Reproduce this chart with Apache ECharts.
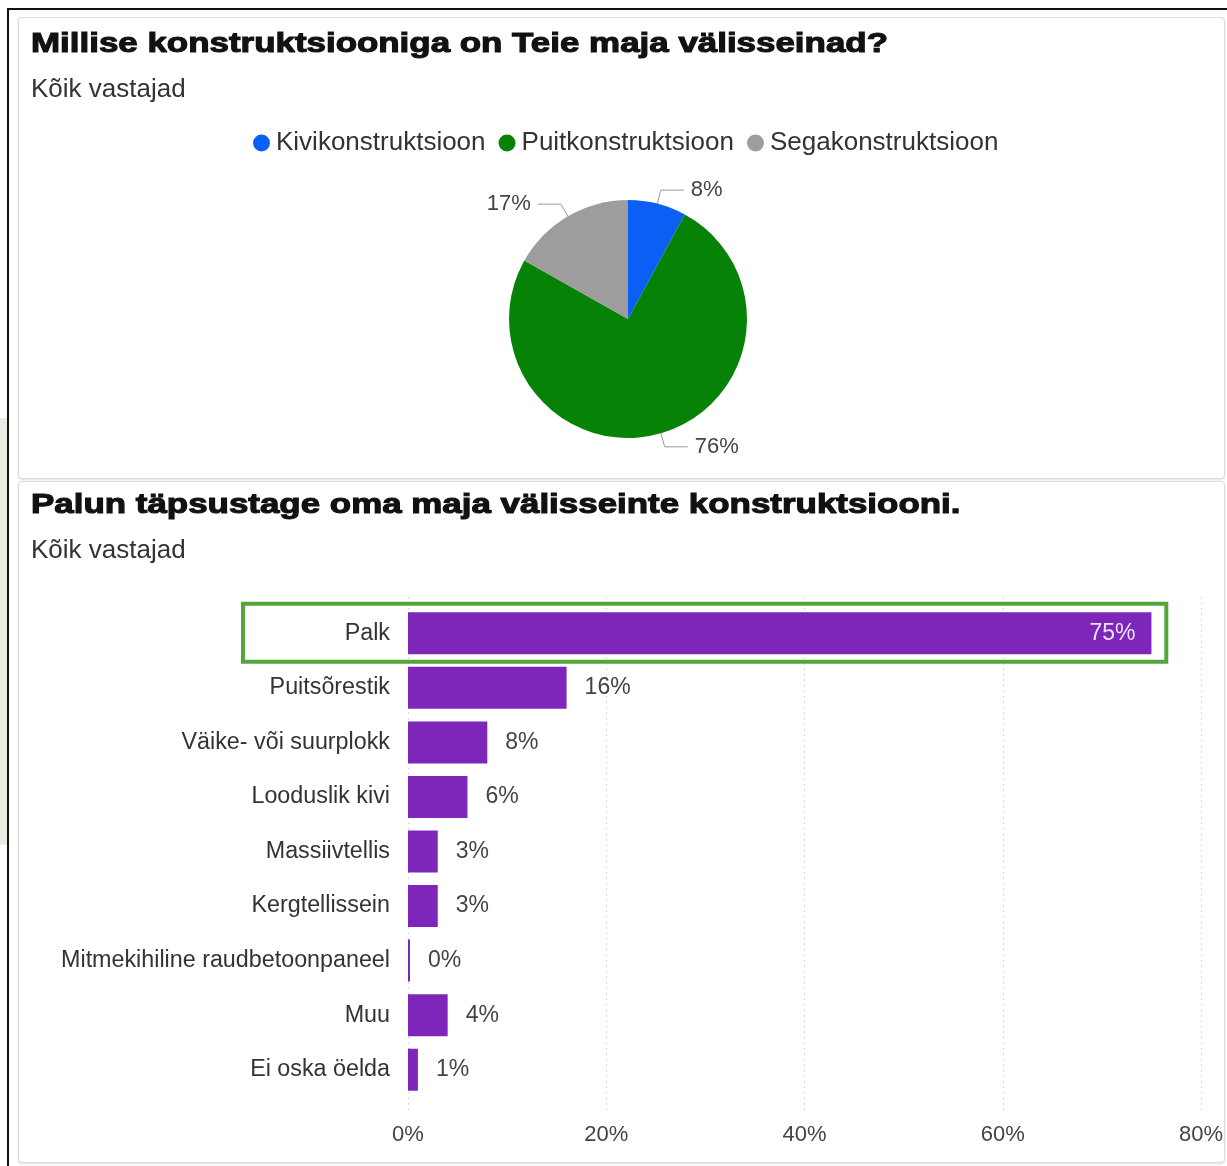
<!DOCTYPE html>
<html>
<head>
<meta charset="utf-8">
<script src="https://cdn.jsdelivr.net/npm/echarts@6/dist/echarts.min.js"></script>
<style>
  html, body { margin: 0; padding: 0; background: #fff; width: 1227px; height: 1166px; overflow: hidden; }
  #side { position: absolute; left: 0; top: 418px; width: 7px; height: 427px; background: #ebe9e4; }
  #frame { position: absolute; left: 7px; top: 8px; width: 1300px; height: 1300px; border-left: 2px solid #111; border-top: 2px solid #111; }
  .panel { position: absolute; left: 18px; width: 1205px; border: 1px solid #dcdcdc; border-radius: 4px; box-shadow: 0 1px 2px rgba(0,0,0,0.12); background: #fff; }
  #p1 { top: 17px; height: 460px; }
  #p2 { top: 481px; height: 680px; }
  #chart { position: absolute; left: 0; top: 0; width: 1227px; height: 1166px; }
</style>
</head>
<body>
<div id="side"></div>
<div id="frame"></div>
<div class="panel" id="p1"></div>
<div class="panel" id="p2"></div>
<div id="chart"></div>
<script>
// Wall construction type (share of all respondents, %)
const pieNames = ['Kivikonstruktsioon', 'Puitkonstruktsioon', 'Segakonstruktsioon'];
const pieValues = [8, 76, 17];

// Detailed wall construction (share of all respondents, %)
const barCategories = [
  'Palk',
  'Puitsõrestik',
  'Väike- või suurplokk',
  'Looduslik kivi',
  'Massiivtellis',
  'Kergtellissein',
  'Mitmekihiline raudbetoonpaneel',
  'Muu',
  'Ei oska öelda'
];
const barValues = [75, 16, 8, 6, 3, 3, 0, 4, 1];

// Value axis
const axisMin = 0;
const axisMax = 80;
const axisStep = 20;

const highlighted = 'Palk';

const FONT = '"Liberation Sans", Arial, sans-serif';
const pieColors = ['#0b5ff4', '#068206', '#9d9d9d'];
const barColor = '#7d26b9';

const chart = echarts.init(document.getElementById('chart'), null, { renderer: 'canvas' });

// Heavy, wide panel headings
function heading(id, text, x, y) {
  return {
    type: 'text', id: id, x: x, y: y, scaleX: 1.247, z: 50,
    style: {
      text: text, x: 0, y: 0, textVerticalAlign: 'top',
      font: 'bold 28px ' + FONT, fill: '#111', stroke: '#111', lineWidth: 1.1
    }
  };
}

const subStyle = { fontFamily: FONT, fontSize: 26, fontWeight: 'normal', color: '#333' };

const option = {
  backgroundColor: 'transparent',
  animation: false,
  title: [
    { text: 'Kõik vastajad', left: 31, top: 77, padding: 0, textStyle: subStyle },
    { text: 'Kõik vastajad', left: 31, top: 538, padding: 0, textStyle: subStyle }
  ],
  graphic: [
    heading('h1', 'Millise konstruktsiooniga on Teie maja välisseinad?', 31, 30),
    heading('h2', 'Palun täpsustage oma maja välisseinte konstruktsiooni.', 31, 491)
  ],
  legend: {
    data: pieNames,
    left: 253,
    top: 130,
    padding: 0,
    icon: 'circle',
    itemWidth: 17,
    itemHeight: 17,
    itemGap: 13,
    textStyle: { fontFamily: FONT, fontSize: 26, color: '#333', padding: [0, 0, 0, 1] }
  },
  grid: [
    // bar bands
    { left: 408, right: 26, top: 606, bottom: 69, containLabel: false },
    // dotted guide lines and tick labels
    { left: 408, right: 26, top: 597, bottom: 55, containLabel: false }
  ],
  xAxis: [
    {
      type: 'value', gridIndex: 0, min: axisMin, max: axisMax, interval: axisStep,
      axisLine: { show: false }, axisTick: { show: false }, axisLabel: { show: false }, splitLine: { show: false }
    },
    {
      type: 'value', gridIndex: 1, min: axisMin, max: axisMax, interval: axisStep,
      axisLine: { show: false }, axisTick: { show: false },
      axisLabel: { formatter: '{value}%', margin: 13, fontFamily: FONT, fontSize: 22, color: '#444' },
      splitLine: { show: true, lineStyle: { color: '#d0d0d0', type: [1.5, 4], width: 1.2 } }
    }
  ],
  yAxis: [
    {
      type: 'category', gridIndex: 0, data: barCategories, inverse: true,
      axisLine: { show: false }, axisTick: { show: false },
      axisLabel: { margin: 18, fontFamily: FONT, fontSize: 23.3, color: '#333' }
    },
    {
      type: 'category', gridIndex: 1, data: [''], show: false
    }
  ],
  series: [
    {
      type: 'pie',
      center: [628, 319],
      radius: 119,
      startAngle: 90,
      clockwise: true,
      data: pieNames.map((n, i) => ({ name: n, value: pieValues[i], itemStyle: { color: pieColors[i] } })),
      label: {
        show: true, position: 'outside', formatter: '{c}%',
        fontFamily: FONT, fontSize: 22, color: '#444', distanceToLabelLine: 7
      },
      labelLine: { show: true, length: 14, length2: 23, lineStyle: { color: '#999', width: 1 } },
      itemStyle: { borderWidth: 0 },
      emphasis: { disabled: true }
    },
    {
      type: 'bar',
      xAxisIndex: 0,
      yAxisIndex: 0,
      barCategoryGap: '23%',
      barMinHeight: 2,
      itemStyle: { color: barColor },
      data: barValues.map((v, i) => {
        const item = { value: v };
        if (barCategories[i] === highlighted) {
          item.label = { position: 'insideRight', distance: 16, color: '#ece2f8' };
        }
        return item;
      }),
      label: {
        show: true, position: 'right', distance: 18, formatter: '{c}%',
        fontFamily: FONT, fontSize: 23, color: '#444'
      },
      emphasis: { disabled: true }
    }
  ]
};

chart.setOption(option);

// Frame around the highlighted category row
const rowY = chart.convertToPixel({ yAxisIndex: 0 }, highlighted);
const frameRight = chart.convertToPixel({ xAxisIndex: 0 }, 76.5);
chart.setOption({
  graphic: [{
    type: 'rect',
    id: 'rowFrame',
    shape: { x: 243, y: rowY - 29.5, width: frameRight - 243, height: 58 },
    style: { fill: 'none', stroke: '#53a73a', lineWidth: 4 },
    z: 100
  }]
});
</script>
</body>
</html>
